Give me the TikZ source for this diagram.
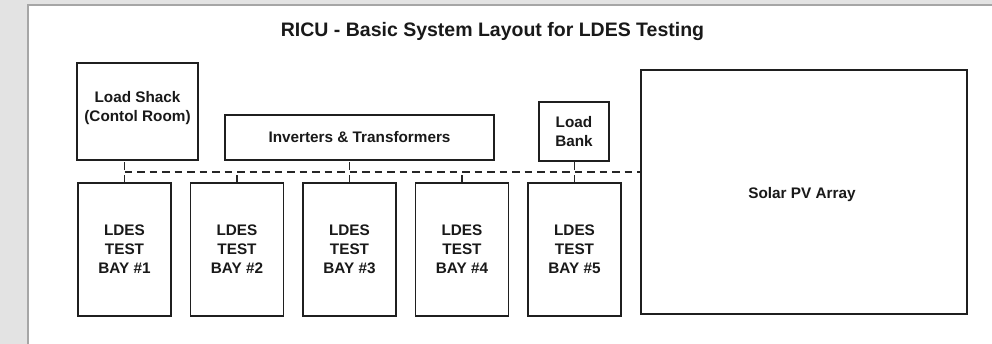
\documentclass[tikz,border=0pt]{standalone}
\usepackage{fontspec}
\setmainfont{Liberation Sans}
\begin{document}
\begin{tikzpicture}[x=1pt,y=1pt,
  box/.style={draw=black!88, line width=1.8pt, fill=white, align=center, inner sep=0pt, font=\bfseries\fontsize{15.3}{19}\selectfont, text=black!90},
  lbl/.style={align=center, inner sep=0pt, font=\bfseries\fontsize{15.3}{19}\selectfont, text=black!90},
  thinbox/.style={box, line width=1.1pt},
  bus/.style={draw=black!85, line width=1.6pt, dash pattern=on 7.5pt off 5pt}]
\useasboundingbox (0,0) rectangle (992,344);
% screenshot background
\fill[gray!22] (0,0) rectangle (992,344);
\fill[white] (28,0) rectangle (992,339);
\draw[gray!70, line width=1.5pt] (28,0) -- (28,339) -- (992,339);
% title
\node (title) at (492.5,312.5) {\bfseries\fontsize{19.5}{24}\selectfont\color{black!90}RICU - Basic System Layout for LDES Testing};
% boxes
\node[box, minimum width=121pt, minimum height=97pt] (shack) at (137.5,232.5) {};
\node[lbl] (shacktxt) at (137.5,236) {Load Shack\\(Contol Room)};
\node[box, minimum width=269pt, minimum height=45pt] (inv) at (359.5,206.5) {Inverters \& Transformers};
\node[thinbox, minimum width=70pt, minimum height=59pt] (lbank) at (574,212.5) {Load\\Bank};
\node[box, line width=1.4pt, minimum width=326pt, minimum height=244pt] (solar) at (804,152) {};
\node[lbl] (solartxt) at (802,149) {Solar PV Array};
\foreach \i/\x in {1/124.5,2/237,3/349.5,4/462,5/574.5}{
  \node[box, minimum width=93pt, minimum height=133pt] (bay\i) at (\x,94.5) {LDES\\TEST\\BAY \#\i};
}
% bus
\coordinate (busL) at ([yshift=10pt]bay1.north);
\draw[bus] (busL) -- (busL -| solar.west);
\draw[bus] (bay1.north) -- (bay1.north |- shack.south);
\draw[bus] (bay2.north) -- (bay2.north |- busL);
\draw[bus] (bay3.north) -- (bay3.north |- inv.south);
\draw[bus] (bay4.north) -- (bay4.north |- busL);
\draw[bus] (bay5.north) -- (bay5.north |- lbank.south);
\end{tikzpicture}
\end{document}
